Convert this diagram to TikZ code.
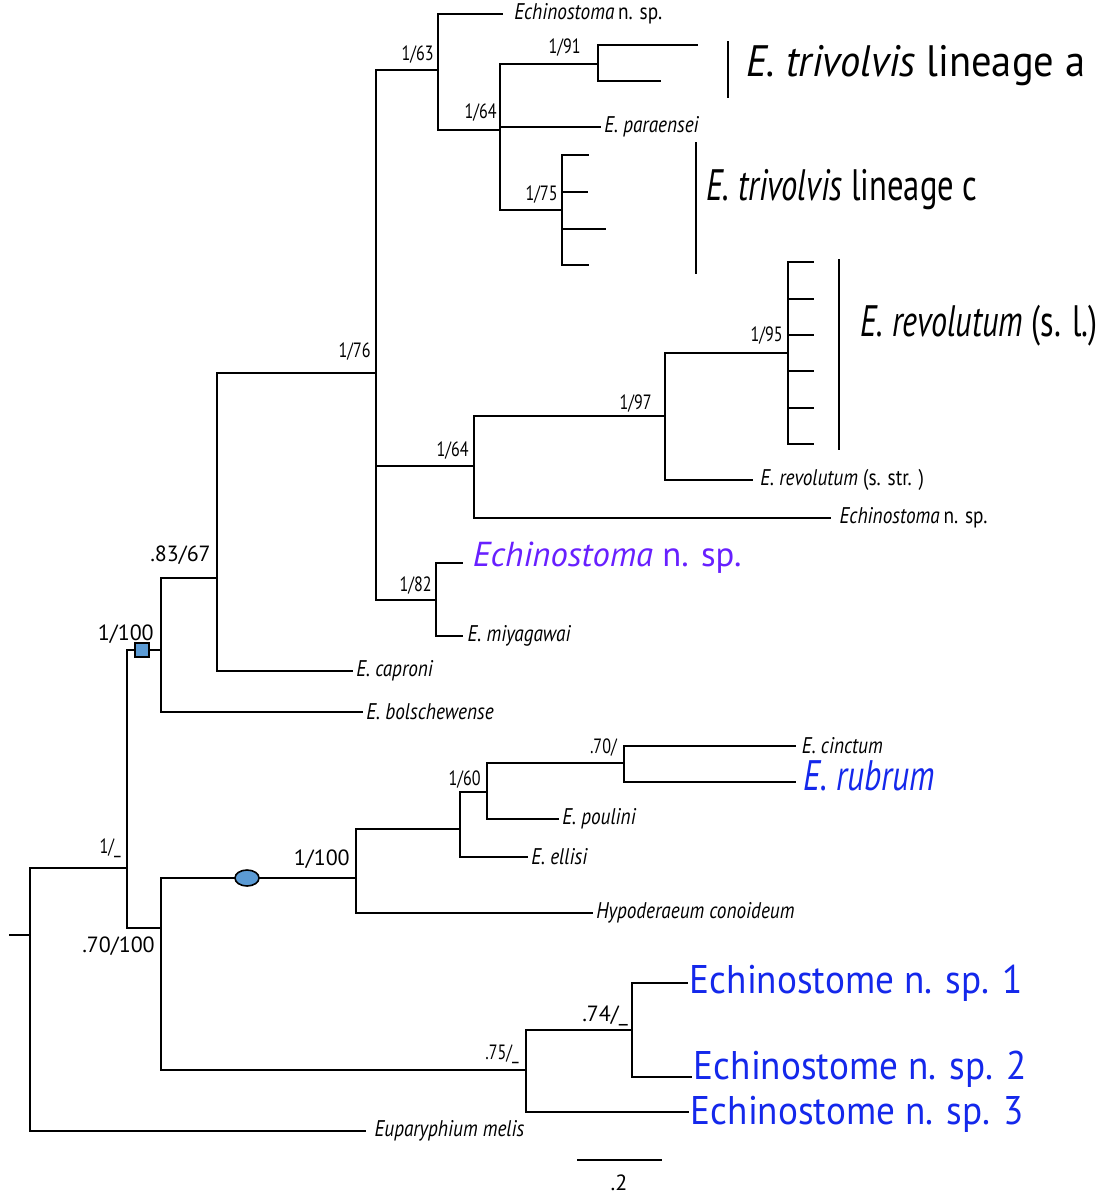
\documentclass[tikz,border=0pt]{standalone}
\usepackage{fontspec}
\usetikzlibrary{shapes.geometric}
\setmainfont{PT Sans}
\newfontfamily\condf{PT Sans}[FakeStretch=0.78]
\newfontfamily\leaff{PT Sans}[FakeStretch=0.85]
\newfontfamily\bigfa{PT Sans}[FakeStretch=0.92]
\newfontfamily\bigfc{PT Sans}[FakeStretch=0.74]
\newfontfamily\bigfr{PT Sans}[FakeStretch=0.73]
\newfontfamily\bluef{PT Sans}[FakeStretch=0.93]
\newfontfamily\regf{PT Sans}
\definecolor{purp}{RGB}{104,32,255}
\definecolor{bluet}{RGB}{20,40,235}
\definecolor{mark}{RGB}{91,155,213}
\tikzset{
  br/.style={line width=1.4pt, line cap=rect},
  leaf/.style={anchor=west, inner xsep=3pt, inner ysep=0pt, font=\leaff\itshape\fontsize{17}{19}\selectfont},
  supp/.style={anchor=base east, inner sep=0pt, font=\condf\fontsize{15.5}{17}\selectfont},
  suppb/.style={anchor=base east, inner sep=0pt, font=\regf\fontsize{16.5}{18}\selectfont},
  biglab/.style={anchor=west, inner sep=0pt},
  bluelab/.style={anchor=west, inner xsep=2pt, inner ysep=0pt, text=bluet, font=\bluef\fontsize{30}{32}\selectfont}
}
\begin{document}
\begin{tikzpicture}[x=0.75pt,y=-0.75pt]
\useasboundingbox (0,0) rectangle (1102,1194);
% internal node coordinates
\coordinate (r0) at (10,935);
\coordinate (root) at (30,935);
\coordinate (A) at (127,868);
\coordinate (B) at (161,650);
\coordinate (C) at (161,928);
\coordinate (D) at (217,578);
\coordinate (E) at (376,373);
\coordinate (F) at (438,70);
\coordinate (I) at (500,130);
\coordinate (J) at (598,64);
\coordinate (K) at (562,210);
\coordinate (G) at (474,466);
\coordinate (L) at (665,416);
\coordinate (M) at (788,353);
\coordinate (H) at (436,600);
\coordinate (N) at (356,878);
\coordinate (P) at (460,829);
\coordinate (Q) at (487,792);
\coordinate (R) at (624,763);
\coordinate (O) at (526,1070);
\coordinate (S) at (632,1030);
% unlabeled tips
\coordinate (ja) at (697,45);
\coordinate (jb) at (660,81);
\coordinate (k1) at (588,155);
\coordinate (k2) at (587,192);
\coordinate (k3) at (605,229);
\coordinate (k4) at (588,265);
\coordinate (m1) at (813,262);
\coordinate (m2) at (813,299);
\coordinate (m3) at (813,335);
\coordinate (m4) at (813,371);
\coordinate (m5) at (813,408);
\coordinate (m6) at (813,444);
\coordinate (pu) at (462,563);
\coordinate (ru) at (795,782);
\coordinate (t1) at (687,983);
\coordinate (t2) at (691,1077);
\coordinate (t3) at (688,1112);
% labelled tips
\node[leaf, inner xsep=7pt] (eup) at (365,1131) {Euparyphium melis};
\node[leaf] (bol) at (362,712) {E. bolschewense};
\node[leaf] (cap) at (352,671) {E. caproni};
\node[leaf, inner xsep=9pt] (ech1) at (502,14) {Echinostoma\,{\upshape n. sp.}};
\node[leaf] (par) at (600,127) {E. paraensei};
\node[leaf, inner xsep=7pt] (ech2) at (830,518) {Echinostoma\,{\upshape n. sp.}};
\node[leaf, inner xsep=6pt] (rstr) at (752,480) {E. revolutum {\upshape (s. str. )}};
\node[leaf, text=purp, font=\regf\itshape\fontsize{26}{28}\selectfont, inner xsep=8pt] (ech3) at (462,558) {Echinostoma {\upshape n. sp.}};
\node[leaf, inner xsep=4pt] (miy) at (462,636) {E. miyagawai};
\node[leaf] (hyp) at (592,913) {Hypoderaeum conoideum};
\node[leaf] (ell) at (527,857) {E. ellisi};
\node[leaf] (pou) at (558,819) {E. poulini};
\node[leaf, inner xsep=5pt] (cin) at (795,746) {E. cinctum};
\node[leaf, text=bluet, font=\condf\itshape\fontsize{32}{34}\selectfont, inner xsep=6pt] (rub) at (795,776) {E. rubrum};
\node[bluelab] (sp1) at (t1) {Echinostome n. sp. 1};
\node[bluelab] (sp2) at (691,1069) {Echinostome n. sp. 2};
\node[bluelab] (sp3) at (688,1114) {Echinostome n. sp. 3};
% branches
\draw[br] (r0) -- (root);
\draw[br] (root) |- (A);
\draw[br] (root) |- (eup.west);
\draw[br] (A) |- (B);
\draw[br] (A) |- (C);
\draw[br] (B) |- (D);
\draw[br] (B) |- (bol.west);
\draw[br] (D) |- (E);
\draw[br] (D) |- (cap.west);
\draw[br] (E) |- (F);
\draw[br] (E) |- (G);
\draw[br] (E) |- (H);
\draw[br] (F) |- (ech1.west);
\draw[br] (F) |- (I);
\draw[br] (I) |- (J);
\draw[br] (I) |- (par.west);
\draw[br] (I) |- (K);
\draw[br] (J) |- (ja);
\draw[br] (J) |- (jb);
\draw[br] (K) |- (k1);
\draw[br] (K) |- (k2);
\draw[br] (K) |- (k3);
\draw[br] (K) |- (k4);
\draw[br] (G) |- (L);
\draw[br] (G) |- (ech2.west);
\draw[br] (L) |- (M);
\draw[br] (L) |- (rstr.west);
\draw[br] (M) |- (m1);
\draw[br] (M) |- (m2);
\draw[br] (M) |- (m3);
\draw[br] (M) |- (m4);
\draw[br] (M) |- (m5);
\draw[br] (M) |- (m6);
\draw[br] (H) |- (pu);
\draw[br] (H) |- (miy.west);
\draw[br] (C) |- (N);
\draw[br] (C) |- (O);
\draw[br] (N) |- (P);
\draw[br] (N) |- (hyp.west);
\draw[br] (P) |- (Q);
\draw[br] (P) |- (ell.west);
\draw[br] (Q) |- (R);
\draw[br] (Q) |- (pou.west);
\draw[br] (R) |- (cin.west);
\draw[br] (R) |- (ru);
\draw[br] (O) |- (S);
\draw[br] (O) |- (t3);
\draw[br] (S) |- (t1);
\draw[br] (S) |- (t2);
% markers
\node[draw, line width=1.2pt, fill=mark, minimum width=10.5pt, minimum height=10.5pt, inner sep=0pt] (sq) at (142,650) {};
\node[draw, line width=1.2pt, fill=mark, ellipse, minimum width=18pt, minimum height=12pt, inner sep=0pt] (el) at (247,878) {};
% clade bars
\coordinate (ba1) at (728,42); \coordinate (ba2) at (728,97);
\coordinate (bc1) at (696,143); \coordinate (bc2) at (696,273);
\coordinate (br1) at (839,260); \coordinate (br2) at (839,449);
\draw[br] (ba1) -- (ba2);
\draw[br] (bc1) -- (bc2);
\draw[br] (br1) -- (br2);
\node[biglab, font=\bigfa\fontsize{33}{36}\selectfont] (la) at (746,66) {\itshape E. trivolvis\/ \upshape lineage a};
\node[biglab, font=\bigfc\fontsize{33}{36}\selectfont] (lc) at (706,190) {\itshape E. trivolvis\/ \upshape lineage c};
\node[biglab, font=\bigfr\fontsize{33}{36}\selectfont] (lr) at (860,326) {\itshape E. revolutum\/ \upshape (s. l.)};
% support values
\node[supp] at (121,853) {1/\_};
\node[suppb] at (154,640) {1/100};
\node[suppb] at (155,952) {.70/100};
\node[suppb] at (211,561) {.83/67};
\node[supp] at (371,357) {1/76};
\node[supp] at (434,61) {1/63};
\node[supp] at (497,119) {1/64};
\node[supp] at (581,54) {1/91};
\node[supp] at (558,201) {1/75};
\node[supp] at (469,456) {1/64};
\node[supp] at (652,409) {1/97};
\node[supp] at (783,341) {1/95};
\node[supp] at (432,591) {1/82};
\node[suppb] at (350,865) {1/100};
\node[supp] at (481,785) {1/60};
\node[supp] at (617,753) {.70/};
\node[supp] at (519,1059) {.75/\_};
\node[suppb] at (628,1021) {.74/\_};
% scale bar
\coordinate (s0) at (578,1160); \coordinate (s1) at (661,1160);
\draw[br] (s0) -- (s1);
\node[suppb, anchor=base] at (619,1190) {.2};
\end{tikzpicture}
\end{document}
